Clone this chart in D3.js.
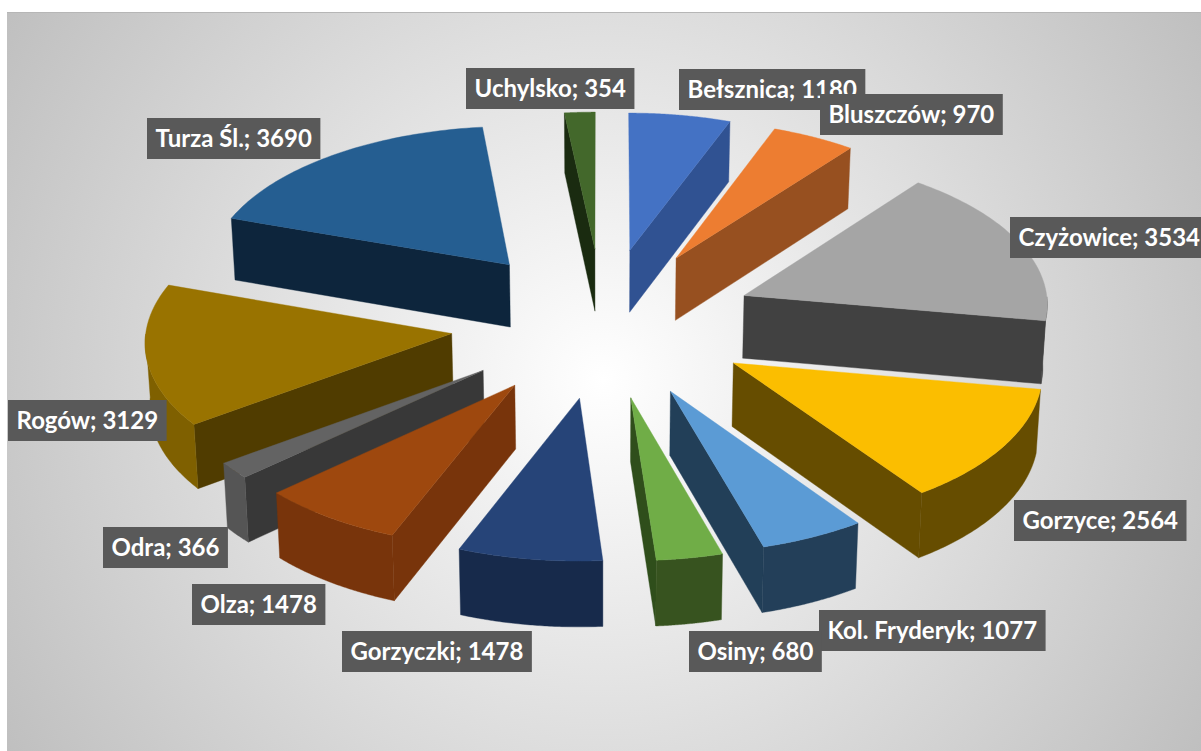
<!DOCTYPE html>
<html><head><meta charset="utf-8">
<script src="https://cdn.jsdelivr.net/npm/d3@7"></script>
<style>html,body{margin:0;padding:0;background:#fff;overflow:hidden}svg{display:block}</style>
</head><body><div id="chart"></div>
<script>
const categories = ["Bełsznica","Bluszczów","Czyżowice","Gorzyce","Kol. Fryderyk","Osiny","Gorzyczki","Olza","Odra","Rogów","Turza Śl.","Uchylsko"];
const values = [1180,970,3534,2564,1077,680,1478,1478,366,3129,3690,354];
const topColors = ["#4472c4","#ed7d31","#a5a5a5","#fbbe00","#5b9bd5","#70ad47","#264478","#9e480e","#636363","#997300","#255e91","#43682b"];
const sideColors = ["#305292","#975020","#414141","#664d00","#223f58","#2f4e1b","#172a4b","#78340b","#383838","#503c00","#0d253c","#1a2b10"];
const outerColors = ["#305292","#975020","#414141","#664d00","#233f59","#37531f","#172a4b","#78340b","#555555","#7f6000","#0d253c","#1a2b10"];
const labelOrigins = [[679,69],[820,94],[1010,217],[1014,500],[819,610],[689,631],[342,631],[192,584],[103,527],[8,400],[147,118],[466,68]];

const W = 1201, H = 751, cx = 603, cy = 322.4, persp = 0.0433, explode = 0.5;
const svg = d3.select("#chart").append("svg").attr("width", W).attr("height", H);
const defs = svg.append("defs");
const grad = defs.append("radialGradient").attr("id","bg").attr("gradientUnits","userSpaceOnUse")
  .attr("cx",603).attr("cy",380).attr("r",705);
[[0,"#ffffff"],[1,"#bfbfbf"]].forEach(s=>grad.append("stop").attr("offset",s[0]).attr("stop-color",s[1]));
svg.append("rect").attr("x",7).attr("y",12).attr("width",W-7).attr("height",H-12).attr("fill","url(#bg)");
svg.append("line").attr("x1",7).attr("x2",W).attr("y1",12.5).attr("y2",12.5).attr("stroke","#b6b6b6").attr("stroke-width",1);

const sx = d3.scaleLinear().domain([-1,1]).range([cx-305,cx+305]);
const sy = d3.scaleLinear().domain([-1,1]).range([cy-150,cy+150]);
const pie = d3.pie().sort(null).value(d=>d).startAngle(0).endAngle(2*Math.PI);
const arcs = pie(values).map((d,i)=>({...d,i,mid:(d.startAngle+d.endAngle)/2}));
const line = d3.line();

// point on the pie plane: X to the right, Z toward the viewer
function project(X,Z){
  const s = 1 + persp*Z;
  return {x:sx(X*s), y:sy(Z*s), z:Z};
}
function apex(m){ return project(explode*Math.sin(m), -explode*Math.cos(m)); }
function rim(m,a){
  return {...project(explode*Math.sin(m)+Math.sin(a), -explode*Math.cos(m)-Math.cos(a)), a};
}
const top2 = p => [p.x,p.y];
const down = p => [cx+(p.x-cx)*0.99, p.y+63*(1+0.03*p.z)];

const order = arcs.slice().sort((a,b)=>Math.cos(b.mid)-Math.cos(a.mid));
const g = svg.selectAll("g.slice").data(order).join("g").attr("class","slice");
g.each(function(d){
  const sel = d3.select(this);
  const ap = apex(d.mid);
  const rimPts = d3.range(0,61).map(k=>rim(d.mid,d.startAngle+(d.endAngle-d.startAngle)*k/60));
  const frontRim = rimPts.filter(p=>Math.cos(p.a)<0);
  const wall = p => [top2(ap),top2(p),down(p),down(ap)];
  const addWall = (pts,c)=>sel.append("path").attr("d",line(pts)+"Z").attr("fill",c).attr("stroke",c).attr("stroke-width",0.4);
  // only the walls that face the viewer are drawn
  if(Math.sin(d.startAngle)<0) addWall(wall(rimPts[0]),sideColors[d.i]);
  if(Math.sin(d.endAngle)>0) addWall(wall(rimPts[60]),sideColors[d.i]);
  if(frontRim.length>1) addWall(frontRim.map(top2).concat(frontRim.slice().reverse().map(down)),outerColors[d.i]);
  const t = [top2(ap)].concat(rimPts.map(top2));
  sel.append("path").attr("d",line(t)+"Z").attr("fill",topColors[d.i]).attr("stroke",topColors[d.i]).attr("stroke-width",0.4);
});

const labels = svg.selectAll("g.label").data(arcs).join("g").attr("class","label");
labels.each(function(d){
  const sel = d3.select(this), o = labelOrigins[d.i];
  const r = sel.append("rect").attr("x",o[0]).attr("y",o[1]).attr("height",41).attr("fill","#595959");
  const t = sel.append("text").attr("x",o[0]+8.5).attr("y",o[1]+29)
    .attr("font-family","Lato, 'Open Sans', sans-serif").attr("font-weight",700).attr("font-size",24)
    .attr("fill","#ffffff").text(`${categories[d.i]}; ${d.data}`);
  r.attr("width",t.node().getComputedTextLength()+17);
});
</script></body></html>
